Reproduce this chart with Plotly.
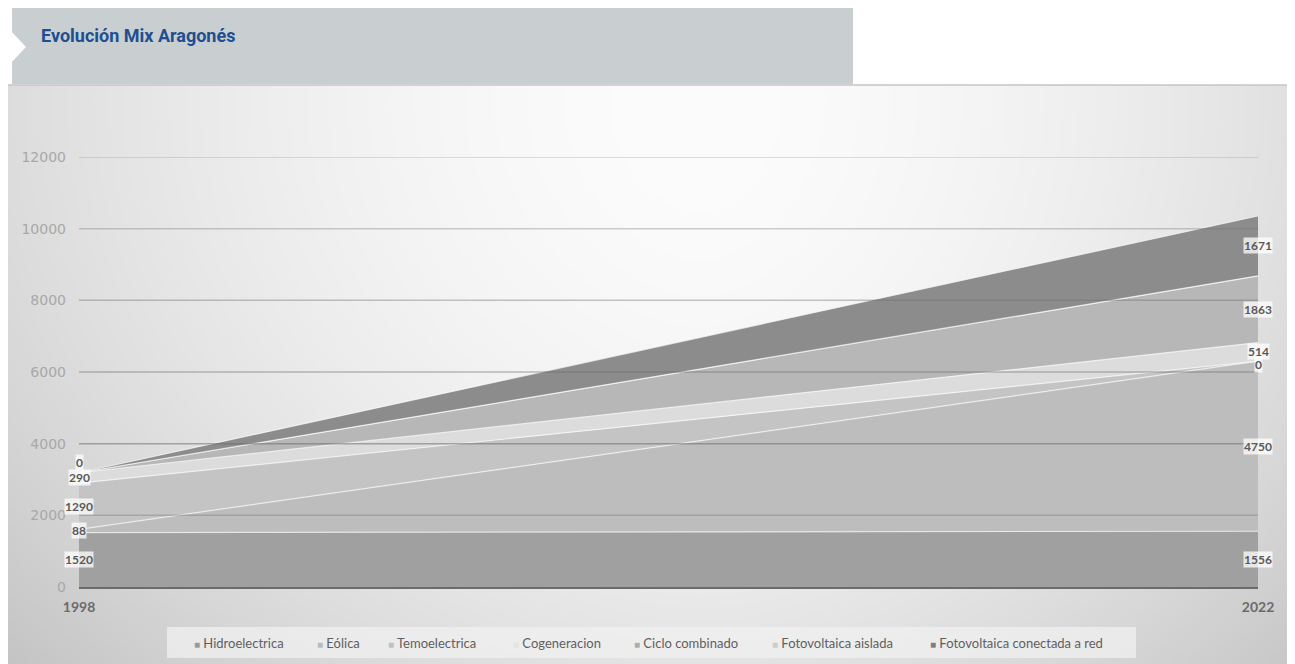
import base64
import struct
import zlib

import numpy as np
import plotly.graph_objects as go

# ---------------- data ----------------
years = [1998, 2022]
series_names = [
    "Hidroelectrica",
    "Eólica",
    "Temoelectrica",
    "Cogeneracion",
    "Ciclo combinado",
    "Fotovoltaica aislada",
    "Fotovoltaica conectada a red",
]
hidroelectrica = [1520, 1556]
eolica = [88, 4750]
temoelectrica = [1290, 0]
cogeneracion = [290, 514]
ciclo_combinado = [0, 1863]
fv_aislada = [0, 0]
fv_conectada = [0, 1671]
y_ticks = [0, 2000, 4000, 6000, 8000, 10000, 12000]

series_values = [hidroelectrica, eolica, temoelectrica, cogeneracion,
                 ciclo_combinado, fv_aislada, fv_conectada]
show_labels = [True, True, True, True, True, False, True]

# ---------------- style ----------------
fill_colors = ["#a0a0a0", "#bdbdbd", "#c4c4c4", "#dcdcdc", "#b7b7b7", "#cfcfcf", "#8c8c8c"]
legend_colors = ["#9a9a9a", "#bababa", "#c0c0c0", "#e4e4e4", "#adadad", "#cccccc", "#7f7f7f"]
grid_alpha = {2000: 0.35, 4000: 0.55, 6000: 0.45, 8000: 0.4, 10000: 0.33, 12000: 0.28}

# page renders the figure with an 8px body margin; work in page pixels
OFF = 8
W, H = 1295, 664
PL, PR, PT, PB = 79, 1258, 157, 587          # plot area in page pixels
ML, MT = PL - OFF, PT - OFF
MR, MB = W - (PR - OFF), H - (PB - OFF)
PW, PH = PR - PL, PB - PT


def px(x):
    return (x - PL) / PW


def py(y):
    return (PB - y) / PH


def gray_png_uri(a):
    h, w = a.shape
    raw = b"".join(b"\x00" + a[i].tobytes() for i in range(h))

    def chunk(t, d):
        return struct.pack(">I", len(d)) + t + d + struct.pack(">I", zlib.crc32(t + d) & 0xFFFFFFFF)

    png = (b"\x89PNG\r\n\x1a\n"
           + chunk(b"IHDR", struct.pack(">IIBBBBB", w, h, 8, 0, 0, 0, 0))
           + chunk(b"IDAT", zlib.compress(raw, 9))
           + chunk(b"IEND", b""))
    return "data:image/png;base64," + base64.b64encode(png).decode()


# background gradient of the chart panel (page pixels)
P_X0, P_X1, P_Y0, P_Y1 = 8, 1295, 85, 664
gx = np.linspace(P_X0, P_X1, 430)
gy = np.linspace(P_Y0, P_Y1, 194)
XX, YY = np.meshgrid(gx, gy)
dx = np.where(XX < 700, (XX - 700) / 650, (XX - 700) / 600)
dy = (YY - 100) / 560
val = 252 - 28 * np.abs(dx) ** 1.7 - 24 * dy ** 2
bg_img = np.clip(val, 0, 255).astype(np.uint8)

fig = go.Figure()

for name, vals, col in zip(series_names, series_values, fill_colors):
    fig.add_trace(go.Scatter(
        x=years, y=vals, name=name, stackgroup="one", mode="lines",
        line=dict(width=1.2, color="rgba(255,255,255,0.65)"),
        fillcolor=col, showlegend=False, hoverinfo="x+y+name",
    ))

shapes = []
# gridlines drawn above the areas (as in the reference)
for t in y_ticks:
    if t == 0:
        continue
    shapes.append(dict(type="line", xref="x", yref="y", x0=years[0], x1=years[-1], y0=t, y1=t,
                       line=dict(color=f"rgba(110,110,110,{grid_alpha[t]})", width=1.5), layer="above"))

# banner
shapes.append(dict(type="path", xref="paper", yref="paper",
                   path=f"M{px(12)},{py(8)} L{px(853)},{py(8)} L{px(853)},{py(84)} L{px(12)},{py(84)} Z",
                   fillcolor="#c9ced1", line=dict(width=0), layer="below"))
shapes.append(dict(type="path", xref="paper", yref="paper",
                   path=f"M{px(11)},{py(31)} L{px(26)},{py(47)} L{px(11)},{py(63)} Z",
                   fillcolor="#ffffff", line=dict(width=0), layer="below"))
# panel top border
shapes.append(dict(type="line", xref="paper", yref="paper", x0=px(8), x1=px(1295), y0=py(85), y1=py(85),
                   line=dict(color="#c4c4c4", width=1.5), layer="below"))
# legend box
shapes.append(dict(type="rect", xref="paper", yref="paper", x0=px(167), x1=px(1136), y0=py(627), y1=py(658),
                   fillcolor="rgba(240,240,240,0.75)", line=dict(width=0), layer="below"))

annotations = []
# title
annotations.append(dict(
    text="<b>Evolución Mix Aragonés</b>", xref="paper", yref="paper", x=px(39), y=py(35),
    xanchor="left", yanchor="middle", showarrow=False,
    font=dict(family="Roboto, sans-serif", size=18, color="#1d4f91"),
))

# data labels (identical labels at the same spot are drawn only once)
stack = np.array(series_values, dtype=float)
cum = np.cumsum(stack, axis=0)
seen = set()
for i, (vals, show) in enumerate(zip(series_values, show_labels)):
    if not show:
        continue
    for j, yr in enumerate(years):
        mid = cum[i, j] - stack[i, j] / 2
        key = (yr, round(mid, 3), vals[j])
        if key in seen:
            continue
        seen.add(key)
        shift = 0
        if vals[j] == 0:
            shift = 10 if j == 0 else -3
        annotations.append(dict(
            text=f"<b>{vals[j]}</b>", x=yr, y=mid, xref="x", yref="y", showarrow=False,
            xanchor="center", yanchor="middle", bgcolor="rgba(255,255,255,0.75)", borderpad=0,
            yshift=shift,
            font=dict(family="Lato, Open Sans, sans-serif", size=12, color="#595959"),
        ))

# legend (manual, small square markers)
legend_x = [192, 315, 386, 511, 632, 770, 928]
for name, col, lx in zip(series_names, legend_colors, legend_x):
    annotations.append(dict(
        text=f"<span style='color:{col};font-size:10px'>■</span> {name}",
        xref="paper", yref="paper", x=px(lx), y=py(643), xanchor="left", yanchor="middle",
        showarrow=False, font=dict(family="Lato, Open Sans, sans-serif", size=13, color="#5f5f5f"),
    ))

fig.update_layout(
    width=W, height=H, autosize=False,
    margin=dict(l=ML, r=MR, t=MT, b=MB, pad=0),
    paper_bgcolor="#ffffff", plot_bgcolor="rgba(0,0,0,0)",
    showlegend=False,
    shapes=shapes, annotations=annotations,
    images=[dict(source=gray_png_uri(bg_img), xref="paper", yref="paper",
                 x=px(P_X0), y=py(P_Y0), sizex=(P_X1 - P_X0) / PW, sizey=(P_Y1 - P_Y0) / PH,
                 xanchor="left", yanchor="top", sizing="stretch", layer="below")],
    xaxis=dict(range=[years[0], years[-1]], tickvals=years, ticktext=[str(y) for y in years],
               showgrid=False, zeroline=False, showline=True, linecolor="#6b6b6b", linewidth=2,
               layer="above traces", ticks="", ticklabelstandoff=6,
               tickfont=dict(family="Lato, Open Sans, sans-serif", size=14, color="#6b6b6b", weight="bold")),
    yaxis=dict(range=[0, 12000], tickvals=y_ticks, ticktext=[str(t) for t in y_ticks],
               showgrid=False, zeroline=False, showline=False, ticks="", ticklabelstandoff=12,
               tickfont=dict(family="DejaVu Sans, sans-serif", size=14, color="#a8a8a8")),
)

fig.write_html("out.html")
